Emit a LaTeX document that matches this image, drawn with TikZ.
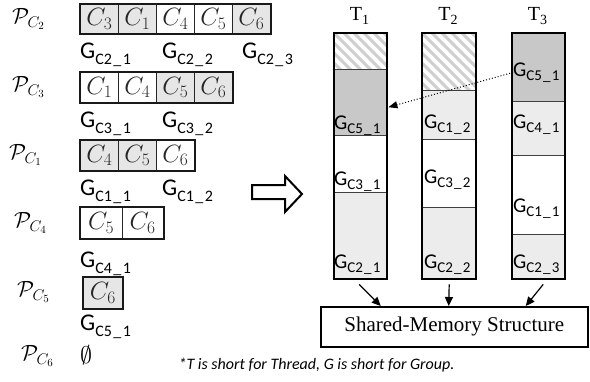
\RequirePackage{fix-cm}
\documentclass[tikz,border=0pt]{standalone}
\usepackage{fontspec}
\newfontfamily\calfont{Carlito}
\newfontfamily\tmfont{Liberation Serif}
\usetikzlibrary{arrows.meta,calc}
\definecolor{cg}{HTML}{E6E6E6}
\definecolor{lg}{HTML}{ECECEC}
\definecolor{dg}{HTML}{C8C8C8}
\definecolor{hatchc}{HTML}{CFCFCF}
\newcommand{\glabL}[2]{{\calfont\fontsize{24}{24}\selectfont G\raisebox{-6pt}{\fontsize{16}{16}\selectfont C#1\kern1.5pt\_\kern1.5pt#2}}}
\newcommand{\glabR}[2]{{\calfont\fontsize{21}{21}\selectfont G\raisebox{-4.5pt}{\fontsize{15}{15}\selectfont C#1\kern1.2pt\_\kern1.2pt#2}}}
\newcommand{\tlabel}[1]{{\tmfont\fontsize{20}{20}\selectfont T\raisebox{-4pt}{\fontsize{14}{14}\selectfont #1}}}
\begin{document}
\begin{tikzpicture}[x=1pt,y=-1pt,
  cell/.style={draw=black!85, line width=0.9pt, minimum width=38pt, minimum height=29pt,
    inner sep=0pt, anchor=north west, font=\fontsize{25}{25}\selectfont, text=black!85},
  rowbox/.style={draw=black!90, line width=1.6pt},
  plab/.style={anchor=west, inner sep=0pt, font=\fontsize{22}{22}\selectfont},
  glab/.style={anchor=base west, inner sep=0pt},
  colbox/.style={draw=black, line width=2.4pt, minimum width=53pt, minimum height=246pt,
    anchor=north west, inner sep=0pt},
  divline/.style={draw=black!75, line width=0.8pt},
  hatchline/.style={draw=hatchc, line width=3pt},
  arr/.style={line width=1.2pt, -{Triangle[length=9pt,width=8pt]}},
  dotarr/.style={line width=1pt, dotted, -{Triangle[length=9pt,width=7pt]}}
]
\useasboundingbox (0,0) rectangle (590,381);

% ---------- left side ----------
\node[plab] (p2) at (12,19) {$\mathcal{P}_{C_2}$};
\node[plab] (p3) at (12,87) {$\mathcal{P}_{C_3}$};
\node[plab] (p1) at (9,155) {$\mathcal{P}_{C_1}$};
\node[plab] (p4) at (14,223) {$\mathcal{P}_{C_4}$};
\node[plab] (p5) at (17,292) {$\mathcal{P}_{C_5}$};
\node[plab] (p6) at (21,356) {$\mathcal{P}_{C_6}$};

% row 1
\node[cell,fill=cg] (r1a) at (80,4) {$C_3$};
\node[cell,fill=cg] (r1b) at (118,4) {$C_1$};
\node[cell] (r1c) at (156,4) {$C_4$};
\node[cell] (r1d) at (194,4) {$C_5$};
\node[cell,fill=cg] (r1e) at (232,4) {$C_6$};
\draw[rowbox] (r1a.north west) rectangle (r1e.south east);
\node[glab] (g21) at (80,58) {\glabL{2}{1}};
\node[glab] (g22) at (162,58) {\glabL{2}{2}};
\node[glab] (g23) at (242,58) {\glabL{2}{3}};

% row 2
\node[cell,minimum height=30pt] (r2a) at (80,72) {$C_1$};
\node[cell,minimum height=30pt] (r2b) at (118,72) {$C_4$};
\node[cell,minimum height=30pt,fill=cg] (r2c) at (156,72) {$C_5$};
\node[cell,minimum height=30pt,fill=cg] (r2d) at (194,72) {$C_6$};
\draw[rowbox] (r2a.north west) rectangle (r2d.south east);
\node[glab] (g31) at (80,127) {\glabL{3}{1}};
\node[glab] (g32) at (162,127) {\glabL{3}{2}};

% row 3
\node[cell,minimum height=30pt,fill=cg] (r3a) at (80,140) {$C_4$};
\node[cell,minimum height=30pt,fill=cg] (r3b) at (118,140) {$C_5$};
\node[cell,minimum height=30pt] (r3c) at (156,140) {$C_6$};
\draw[rowbox] (r3a.north west) rectangle (r3c.south east);
\node[glab] (g11) at (80,195) {\glabL{1}{1}};
\node[glab] (g12) at (162,195) {\glabL{1}{2}};

% row 4
\node[cell,minimum height=31pt,minimum width=41.5pt] (r4a) at (80,207) {$C_5$};
\node[cell,minimum height=31pt,minimum width=41.5pt] (r4b) at (121.5,207) {$C_6$};
\draw[rowbox] (r4a.north west) rectangle (r4b.south east);
\node[glab] (g41) at (80,267) {\glabL{4}{1}};

% row 5
\node[cell,minimum height=31pt,minimum width=39pt,fill=cg] (r5a) at (83,277) {$C_6$};
\draw[rowbox] (r5a.north west) rectangle (r5a.south east);
\node[glab] (g51) at (80,330) {\glabL{5}{1}};

% row 6
\node[anchor=west, inner sep=0pt, font=\fontsize{24}{24}\selectfont] (emp) at (80,355) {$\emptyset$};

% hollow arrow
\draw[line width=2pt, line join=miter] (252,185) -- (285,185) -- (285,176) -- (302,194) -- (285,212) -- (285,199) -- (252,199) -- cycle;

% ---------- right side ----------
% T1
\begin{scope}
\clip (333,32) rectangle (386,69);
\foreach \i in {0,...,12} {\draw[hatchline] ({263+10*\i},32) -- ({333+10*\i},102);}
\end{scope}
\fill[dg] (333,69) rectangle (386,135);
\fill[white] (333,135) rectangle (386,192);
\fill[lg] (333,192) rectangle (386,278);
\draw[divline] (333,69) -- (386,69);
\draw[divline] (333,135) -- (386,135);
\draw[divline] (333,192) -- (386,192);
% T2
\begin{scope}
\clip (421,32) rectangle (475,90);
\foreach \i in {0,...,14} {\draw[hatchline] ({351+10*\i},32) -- ({421+10*\i},102);}
\end{scope}
\fill[lg] (421,90) rectangle (475,139);
\fill[white] (421,139) rectangle (475,207);
\fill[lg] (421,207) rectangle (475,278);
\draw[divline] (421,90) -- (475,90);
\draw[divline] (421,139) -- (475,139);
\draw[divline] (421,207) -- (475,207);
% T3
\fill[dg] (511,32) rectangle (564,101);
\fill[lg] (511,101) rectangle (564,155);
\fill[white] (511,155) rectangle (564,234);
\fill[lg] (511,234) rectangle (564,278);
\draw[divline] (511,101) -- (564,101);
\draw[divline] (511,155) -- (564,155);
\draw[divline] (511,234) -- (564,234);

\node[colbox] (t1) at (333,32) {};
\node[colbox,minimum width=54pt] (t2) at (421,32) {};
\node[colbox] (t3) at (511,32) {};

\node[anchor=base] (t1lab) at (359.5,20) {\tlabel{1}};
\node[anchor=base] (t2lab) at (448,20) {\tlabel{2}};
\node[anchor=base] (t3lab) at (537.5,20) {\tlabel{3}};

% labels in columns
\node[glab] (h15) at (334,129) {\glabR{5}{1}};
\node[glab] (h13) at (334,185) {\glabR{3}{1}};
\node[glab] (h12) at (334,268) {\glabR{2}{1}};
\node[glab] (h21) at (424,128) {\glabR{1}{2}};
\node[glab] (h23) at (424,183) {\glabR{3}{2}};
\node[glab] (h22) at (424,268) {\glabR{2}{2}};
\node[glab] (h35) at (513,76) {\glabR{5}{1}};
\node[glab] (h34) at (513,128) {\glabR{4}{1}};
\node[glab] (h31) at (513,212) {\glabR{1}{1}};
\node[glab] (h32) at (513,268) {\glabR{2}{3}};

% dotted arrow
\draw[dotarr] (h35.west) -- ([yshift=49pt]t1.east);

% shared memory
\node[draw, line width=1.5pt, minimum width=267pt, minimum height=40pt, anchor=north west,
  inner sep=0pt, font=\tmfont\fontsize{21}{21}\selectfont] (smem) at (320,306) {Shared-Memory Structure};

\draw[arr] ([xshift=-1.5pt,yshift=-4pt]t1.south) -- ([xshift=-73.5pt]smem.north);
\draw[arr] ([yshift=-4pt]t2.south) -- ([xshift=-5.5pt]smem.north);
\draw[arr] ([xshift=4.5pt,yshift=-4pt]t3.south) -- ([xshift=71.5pt]smem.north);

% footnote
\node[inner sep=0pt, font=\calfont\itshape\fontsize{16}{16}\selectfont] (fn) at (316.5,365) {*T is short for Thread, G is short for Group.};
\end{tikzpicture}
\end{document}
